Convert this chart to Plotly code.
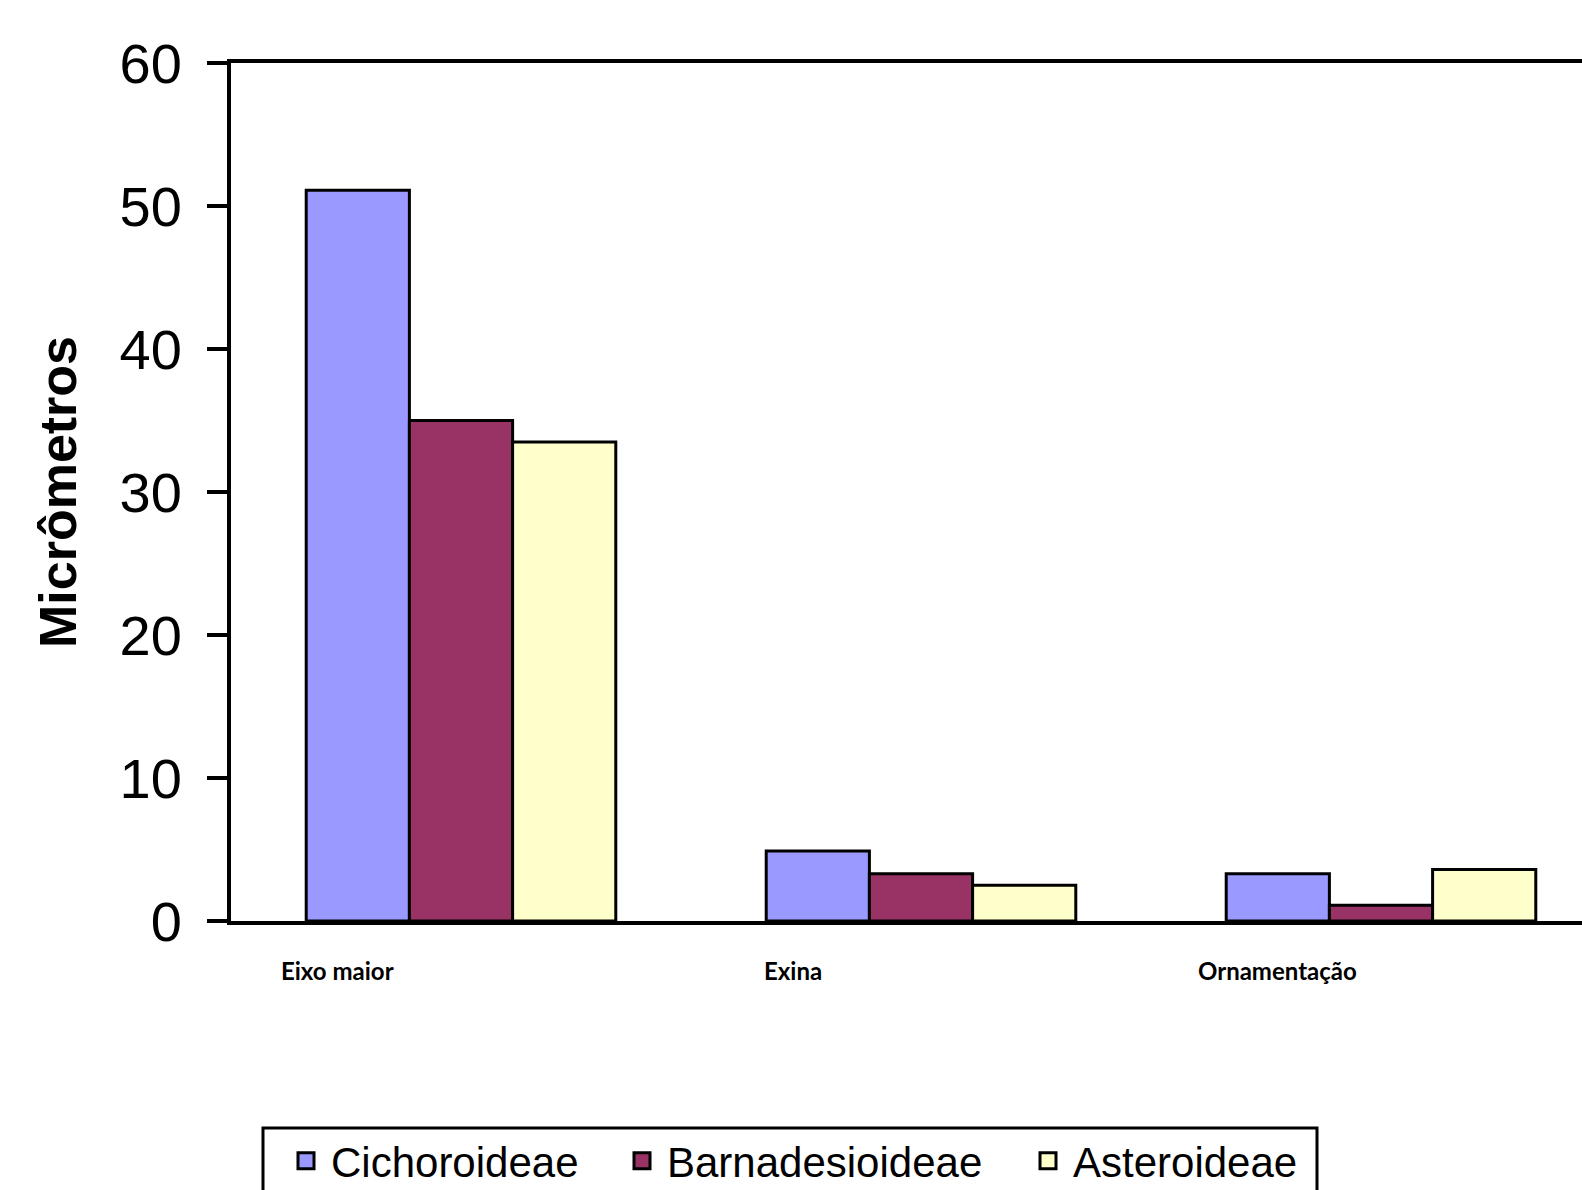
import plotly.graph_objects as go

categories = ["Eixo maior", "Exina", "Ornamentação"]
series_names = ["Cichoroideae", "Barnadesioideae", "Asteroideae"]
cichoroideae = [51.1, 4.9, 3.3]
barnadesioideae = [35.0, 3.3, 1.1]
asteroideae = [33.5, 2.5, 3.6]
y_ticks = [0, 10, 20, 30, 40, 50, 60]

colors = ["#9999FF", "#993366", "#FFFFCC"]
values = [cichoroideae, barnadesioideae, asteroideae]

W, H = 1582, 1190
L, R, T, B = 231, 0, 63, 269
PW, PH = W - L - R, H - T - B


def px_x(px):
    return (px - L) / PW


def px_y(py):
    return (H - B - py) / PH


fig = go.Figure()
for name, vals, col in zip(series_names, values, colors):
    fig.add_trace(go.Bar(
        x=categories, y=vals, name=name, showlegend=False,
        marker=dict(color=col, line=dict(color="black", width=3)),
    ))

# legend entries (one legend per entry so spacing matches the original)
legend_ids = ["legend", "legend2", "legend3"]
legend_left_px = [281, 617, 1023]
for name, col, lid in zip(series_names, colors, legend_ids):
    fig.add_trace(go.Scatter(
        x=[None], y=[None], mode="markers", name=name, legend=lid,
        marker=dict(symbol="square", size=16, color=col,
                    line=dict(color="black", width=3)),
    ))

legend_style = dict(
    orientation="h", xanchor="left", yanchor="middle",
    font=dict(family="Liberation Sans", size=42, color="black"),
    borderwidth=0, bgcolor="rgba(0,0,0,0)", itemwidth=40,
)
legend_layout = {}
for lid, lx in zip(legend_ids, legend_left_px):
    legend_layout[lid] = dict(legend_style, x=px_x(lx), y=px_y(1161))

# legend frame
fig.add_shape(type="rect", xref="paper", yref="paper",
              x0=px_x(263), x1=px_x(1317), y0=px_y(1128), y1=px_y(1215),
              line=dict(color="black", width=3), fillcolor="rgba(0,0,0,0)")

label_shift = [-124, -128, -104]
for cat, sh in zip(categories, label_shift):
    fig.add_annotation(
        x=cat, y=0, xref="x", yref="y", yshift=-49, xshift=sh,
        text=f"<b>{cat}</b>", showarrow=False,
        font=dict(family="Lato", size=24, color="black"),
    )

fig.update_layout(
    width=W, height=H,
    margin=dict(l=L, r=R, t=T, b=B, autoexpand=False),
    plot_bgcolor="white", paper_bgcolor="white",
    barmode="group", bargap=0.327, bargroupgap=0,
    font=dict(family="Liberation Sans", color="black"),
    showlegend=True,
    **legend_layout,
)
fig.update_xaxes(
    type="category", range=[-0.5, -0.5 + PW / 460.0],
    showline=True, linecolor="black", linewidth=4, mirror=True,
    showticklabels=False, ticks="", showgrid=False, zeroline=False,
)
fig.update_yaxes(
    range=[0, 60], tickvals=y_ticks,
    showline=True, linecolor="black", linewidth=4,
    ticks="outside", ticklen=20, tickwidth=4, tickcolor="black",
    tickfont=dict(family="Liberation Sans", size=56, color="black"),
    ticklabelstandoff=14,
    showgrid=False, zeroline=False,
    title=dict(text="<b>Micrômetros</b>", standoff=27,
               font=dict(family="Liberation Sans", size=52, color="black")),
)

fig.write_html("out.html")
